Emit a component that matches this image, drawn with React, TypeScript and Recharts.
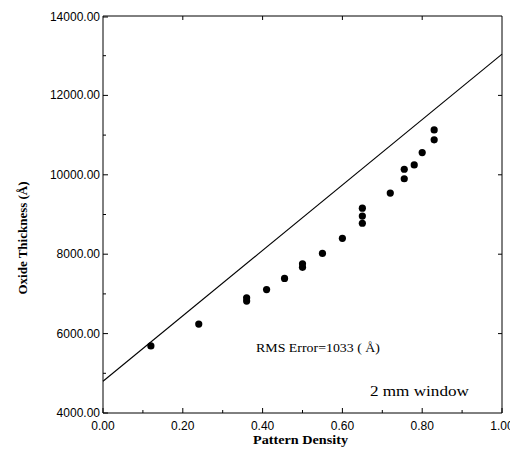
import React from 'react';
import { ScatterChart, Scatter, XAxis, YAxis, ReferenceLine, ReferenceDot, Label } from 'recharts';

// Measured points (Pattern Density vs Oxide Thickness)
const densityValues = [0.12, 0.24, 0.36, 0.36, 0.41, 0.455, 0.5, 0.5, 0.55, 0.6, 0.65, 0.65, 0.65, 0.72, 0.755, 0.755, 0.78, 0.8, 0.83, 0.83];
const thicknessValues = [5690, 6240, 6900, 6820, 7110, 7390, 7760, 7670, 8020, 8400, 9160, 8960, 8780, 9540, 10140, 9900, 10250, 10560, 11130, 10880];

// Model line endpoints
const fitX = [0, 1];
const fitY = [4800, 13040];

// Axes
const xDomain = [0, 1];
const yDomain = [4000, 14000];
const xTicksAll = [0, 0.1, 0.2, 0.3, 0.4, 0.5, 0.6, 0.7, 0.8, 0.9, 1.0];
const xTicksMajor = [0, 0.2, 0.4, 0.6, 0.8, 1.0];
const xTicksTop = [0.2, 0.4, 0.6, 0.8];
const yTicksAll = [4000, 5000, 6000, 7000, 8000, 9000, 10000, 11000, 12000, 13000, 14000];
const yTicksMajor = [4000, 6000, 8000, 10000, 12000, 14000];
const yTicksRight = [6000, 8000, 10000, 12000];

const xTitle = 'Pattern Density';
const yTitle = 'Oxide Thickness (Å)';
const rmsText = 'RMS Error=1033 ( Å)';
const windowText = '2 mm window';
const rmsPos = { x: 0.3835, y: 5540 };
const windowPos = { x: 0.669, y: 4430 };

const points = densityValues.map((d, i) => ({ density: d, thickness: thicknessValues[i] }));

const SANS = '"Liberation Sans", Arial, sans-serif';
const SERIF = '"Liberation Serif", "Times New Roman", serif';

const isIn = (v: number, arr: number[]) => arr.some((a) => Math.abs(a - v) < 1e-6);

const BottomTick = (props: any) => {
  const { x, y, payload } = props;
  const v = payload.value as number;
  const major = isIn(v, xTicksMajor);
  return (
    <g>
      <line x1={x} y1={y} x2={x} y2={y - (major ? 5 : 3)} stroke="#000" strokeWidth={1} />
      {major && (
        <text x={x} y={y + 17} textAnchor="middle" fontFamily={SANS} fontSize={12} fill="#000">
          {v.toFixed(2)}
        </text>
      )}
    </g>
  );
};

const TopTick = (props: any) => {
  const { x, y } = props;
  return <line x1={x} y1={y} x2={x} y2={y + 4} stroke="#000" strokeWidth={1} />;
};

const LeftTick = (props: any) => {
  const { x, y, payload } = props;
  const v = payload.value as number;
  const major = isIn(v, yTicksMajor);
  return (
    <g>
      <line x1={x} y1={y} x2={x + (major ? 5 : 3)} y2={y} stroke="#000" strokeWidth={1} />
      {major && (
        <text x={x - 3} y={y + 4} textAnchor="end" fontFamily={SANS} fontSize={12} fill="#000">
          {v.toFixed(2)}
        </text>
      )}
    </g>
  );
};

const RightTick = (props: any) => {
  const { x, y } = props;
  return <line x1={x} y1={y} x2={x - 4} y2={y} stroke="#000" strokeWidth={1} />;
};

const Dot = (props: any) => <circle cx={props.cx} cy={props.cy} r={3.6} fill="#000" />;

export default function App() {
  return (
    <ScatterChart width={510} height={440} margin={{ top: 0, right: 0, bottom: 0, left: 0 }}>
      <XAxis
        xAxisId="b"
        type="number"
        dataKey="density"
        domain={xDomain}
        ticks={xTicksAll}
        orientation="bottom"
        height={35}
        tickSize={0}
        tickMargin={0}
        tick={<BottomTick />}
        tickLine={false}
        axisLine={{ stroke: '#000', strokeWidth: 1 }}
        allowDataOverflow
      >
        <Label
          content={() => (
            <text
              x={292.5}
              y={436}
              textAnchor="middle"
              fontFamily={SERIF}
              fontWeight="bold"
              fontSize={13}
              fill="#000"
              textLength={95}
              lengthAdjust="spacingAndGlyphs"
            >
              {xTitle}
            </text>
          )}
        />
      </XAxis>
      <XAxis
        xAxisId="t"
        type="number"
        dataKey="density"
        domain={xDomain}
        ticks={xTicksTop}
        orientation="top"
        height={8}
        tickSize={0}
        tickMargin={0}
        tick={<TopTick />}
        tickLine={false}
        axisLine={{ stroke: '#000', strokeWidth: 1 }}
        allowDataOverflow
      />
      <YAxis
        yAxisId="l"
        type="number"
        dataKey="thickness"
        domain={yDomain}
        ticks={yTicksAll}
        orientation="left"
        width={95}
        tickSize={0}
        tickMargin={0}
        tick={<LeftTick />}
        tickLine={false}
        axisLine={{ stroke: '#000', strokeWidth: 1 }}
        allowDataOverflow
      >
        <Label
          content={() => (
            <text
              x={19}
              y={230}
              transform="rotate(-90 19 230)"
              textAnchor="middle"
              fontFamily={SERIF}
              fontWeight="bold"
              fontSize={13}
              fill="#000"
            >
              {yTitle}
            </text>
          )}
        />
      </YAxis>
      <YAxis
        yAxisId="r"
        type="number"
        dataKey="thickness"
        domain={yDomain}
        ticks={yTicksRight}
        orientation="right"
        width={16}
        tickSize={0}
        tickMargin={0}
        tick={<RightTick />}
        tickLine={false}
        axisLine={{ stroke: '#000', strokeWidth: 1 }}
        allowDataOverflow
      />
      <ReferenceLine
        xAxisId="b"
        yAxisId="l"
        segment={[
          { x: fitX[0], y: fitY[0] },
          { x: fitX[1], y: fitY[1] },
        ]}
        stroke="#000"
        strokeWidth={1.1}
      />
      <Scatter
        xAxisId="b"
        yAxisId="l"
        data={points}
        shape={<Dot />}
        isAnimationActive={false}
      />
      <ReferenceDot
        xAxisId="b"
        yAxisId="l"
        x={rmsPos.x}
        y={rmsPos.y}
        r={0}
        stroke="none"
        fill="none"
        label={(p: any) => (
          <text
            x={p.viewBox.x}
            y={p.viewBox.y}
            textAnchor="start"
            fontFamily={SERIF}
            fontSize={13}
            fill="#000"
            textLength={124}
            lengthAdjust="spacingAndGlyphs"
          >
            {rmsText}
          </text>
        )}
      />
      <ReferenceDot
        xAxisId="b"
        yAxisId="l"
        x={windowPos.x}
        y={windowPos.y}
        r={0}
        stroke="none"
        fill="none"
        label={(p: any) => (
          <text
            x={p.viewBox.x}
            y={p.viewBox.y}
            textAnchor="start"
            fontFamily={SERIF}
            fontSize={15}
            fill="#000"
            textLength={99}
            lengthAdjust="spacingAndGlyphs"
          >
            {windowText}
          </text>
        )}
      />
    </ScatterChart>
  );
}
